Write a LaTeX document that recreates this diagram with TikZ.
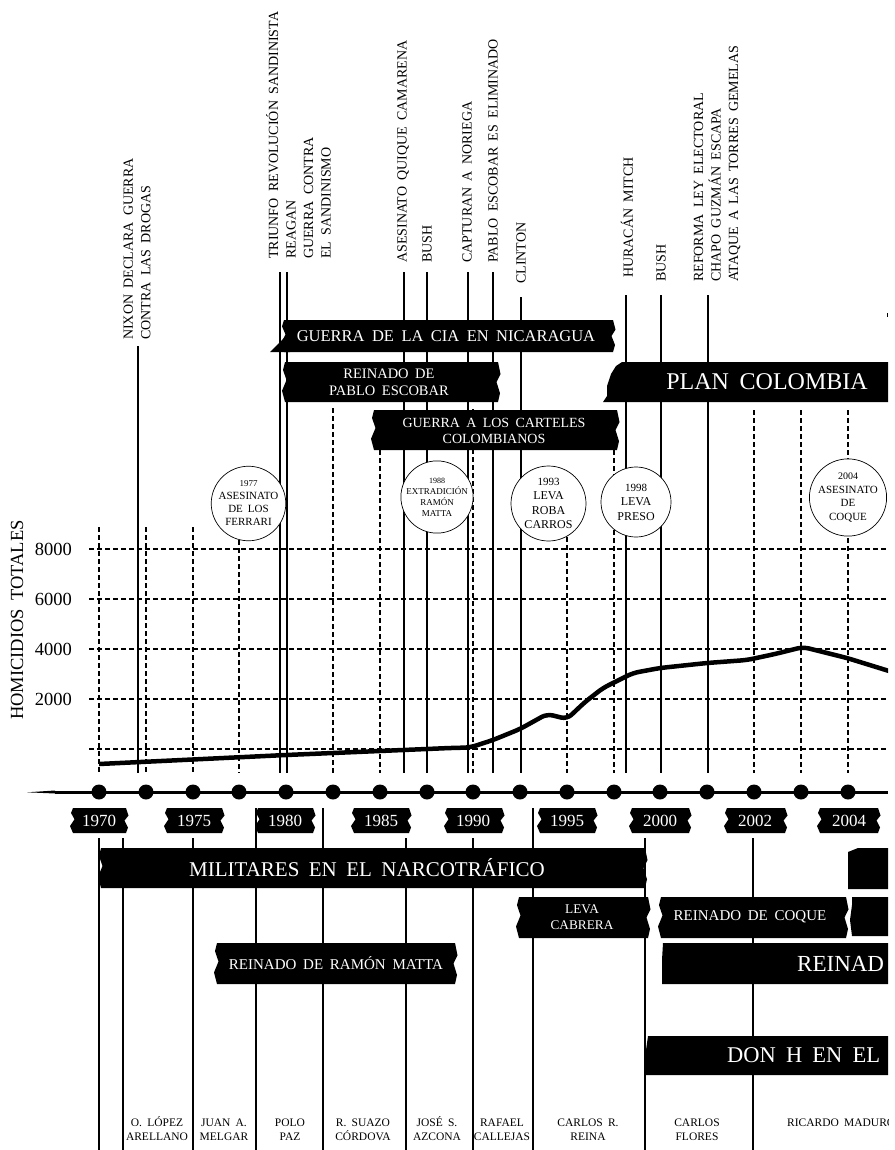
\documentclass[tikz,border=0pt]{standalone}
\usepackage{fontspec}
\setmainfont{Liberation Serif}[WordSpace=1.8]
\newcommand\fs[2]{\fontsize{#1}{#2}\selectfont}
% torn tape box: x1, ytop, x2, ybottom
\newcommand\tapebox[4]{%
  \fill ({#1},{#2}) -- ({#3},{#2}) -- ({#3+2.5},{#2+0.3*(#4-#2)}) -- ({#3-1.5},{#2+0.5*(#4-#2)}) -- ({#3+2},{#2+0.78*(#4-#2)}) -- ({#3},{#4}) -- ({#1},{#4}) -- ({#1-3},{#2+0.72*(#4-#2)}) -- ({#1+1.5},{#2+0.45*(#4-#2)}) -- ({#1-2},{#2+0.2*(#4-#2)}) -- cycle;}
\begin{document}
\begin{tikzpicture}[x=1pt,y=-1pt,
  evline/.style={line width=1.3pt},
  gdash/.style={line width=1.4pt, dash pattern=on 4.5pt off 3.5pt},
  toplbl/.style={rotate=90, anchor=west, inner sep=0pt, align=left, font=\fs{14}{17.5}},
  wtxt/.style={text=white, inner sep=0pt, align=center},
  yrtxt/.style={text=white, inner sep=0pt, font=\fs{17}{17}},
  evc/.style={circle, draw, line width=0.7pt, fill=white, inner sep=0pt, align=center},
  pres/.style={inner sep=0pt, align=center, anchor=north, font=\fs{11.5}{13.5}},
  dot/.style={circle, fill=black, inner sep=0pt, minimum size=15pt},
  axn/.style={inner sep=0pt, font=\fs{18.5}{18.5}}]
\useasboundingbox (0,0) rectangle (894,1150);
\fill[white] (0,0) rectangle (894,1150);
\clip (0,0) rectangle (888,1150);

% grid
\foreach \y in {549,599,649,699,749} \draw[gdash] (89,\y) -- (888,\y);
\foreach \x/\t in {99/527,146/527,193/527,239/540,333/408,380/410,473/409,567/537,614/410,754/410,801/410,848/410}
  \draw[gdash] (\x,\t) -- (\x,773);

% event lines
\foreach \x/\t in {138/346,280/272,287/272,404/272,427/272,468/272,493/272,521/297,626/295,661/295,708/295}
  \draw[evline] (\x,\t) -- (\x,773);
\draw[line width=1pt] (887,313) -- (887,317);

% homicide curve
\draw[line width=4.5pt, rounded corners=6pt] (99,764) -- (286,755) -- (450,748) -- (470,747.5) -- (493,740) -- (520,729) -- (547,714) -- (567,719) -- (585,702) -- (603,688) -- (633,673) -- (660,668) -- (707,663) -- (747,660) -- (775,654) -- (803,647) -- (847,658) -- (889,671);

% axis
\node[rotate=90, inner sep=0pt, font=\fs{18.5}{18.5}] (ylab) at (17,620) {HOMICIDIOS TOTALES};
\node[axn, anchor=east] (y8) at (72,549) {8000};
\node[axn, anchor=east] (y6) at (72,599) {6000};
\node[axn, anchor=east] (y4) at (72,649) {4000};
\node[axn, anchor=east] (y2) at (72,699) {2000};

% event circles
\node[evc, minimum size=73pt, font=\fs{11}{13}] (c1977) at (248.5,503.5) {{\fs{9}{13}1977}\\ASESINATO\\DE LOS\\FERRARI};
\node[evc, minimum size=71pt, font=\fs{9}{11}] (c1988) at (437,497) {{\fs{8}{11}1988}\\EXTRADICIÓN\\RAMÓN\\MATTA};
\node[evc, minimum size=75pt, font=\fs{12}{14.5}] (c1993) at (548.5,503.5) {{\fs{11}{14.5}1993}\\LEVA\\ROBA\\CARROS};
\node[evc, minimum size=70pt, font=\fs{12}{14.5}] (c1998) at (636,502) {{\fs{11}{14.5}1998}\\LEVA\\PRESO};
\node[evc, minimum size=76pt, font=\fs{11}{13.5}] (c2004) at (848,497.5) {{\fs{10}{13.5}2004}\\ASESINATO\\DE\\COQUE};

% timeline
\fill (27,792.3) -- (55,790.5) -- (55,793.5) -- cycle;
\coordinate (tls) at (55,792);
\coordinate (tle) at (888,792);
\draw[line width=3pt] (tls) -- (tle);
\foreach \x [count=\i from 0] in {99,146,193,239,286,333,380,427,473,520,567,614,660,707,754,801,848}
  \node[dot] (d\i) at (\x,792) {};

% year labels
\foreach \a/\b/\c/\yr in {73/126/99/1970,167/222/194/1975,258/313/285/1980,354/409/381/1985,447/502/473/1990,540/595/567/1995,632/689/660/2000,727/785/755/2002,820/878/849/2004}{
  \tapebox{\a}{808}{\b}{833}
  \node[yrtxt] (yr\yr) at (\c,820.5) {\yr};
}

% bottom verticals
\foreach \x/\t in {99/838,123/838,193/838,256/808,323/808,406/838,473/838,533/808,645/838,753/838}
  \draw[evline] (\x,\t) -- (\x,1150);

% top banners
\tapebox{284}{320}{613}{352}
\fill (286,336) -- (270,352) -- (290,352) -- cycle;
\node[wtxt, font=\fs{16.5}{16.5}] (cia) at (446,336) {GUERRA DE LA CIA EN NICARAGUA};
\tapebox{285}{362}{498}{402}
\node[wtxt, font=\fs{14.5}{17}] (pablo) at (389,382) {REINADO DE\\PABLO ESCOBAR};
\tapebox{374}{410}{617}{450}
\node[wtxt, font=\fs{14}{16}] (carteles) at (494,431) {GUERRA A LOS CARTELES\\COLOMBIANOS};
\fill (622,362) -- (890,362) -- (890,402) -- (603,402) -- (607,396) -- (607,386) -- (611,374) -- (616,366) -- cycle;
\node[wtxt, font=\fs{24}{24}] (plan) at (767,382) {PLAN COLOMBIA};

% bottom banners
\tapebox{101}{848}{645}{888}
\node[wtxt, font=\fs{21}{21}] (mil) at (367,868) {MILITARES EN EL NARCOTRÁFICO};
\tapebox{217}{943}{455}{984}
\node[wtxt, font=\fs{15}{15}] (matta) at (336,963.5) {REINADO DE RAMÓN MATTA};
\tapebox{519}{897}{648}{938}
\node[wtxt, font=\fs{13.3}{16}] (cabrera) at (582,917) {LEVA\\CABRERA};
\tapebox{661}{897}{846}{938}
\node[wtxt, font=\fs{15}{15}] (coque) at (750,917) {REINADO DE COQUE};
\fill (852,897) -- (890,897) -- (890,936) -- (852,936) -- (850,920) -- (852,905) -- cycle;
\fill (848,852) -- (858,848) -- (890,848) -- (890,889) -- (848,889) -- cycle;
\fill (663,943) -- (890,943) -- (890,984) -- (662,984) -- (662,960) -- cycle;
\node[wtxt, anchor=west, font=\fs{23}{23}] (reinad) at (797,963.5) {REINAD};
\fill (648,1036) -- (890,1036) -- (890,1075) -- (646,1075) -- (646,1050) -- cycle;
\node[wtxt, anchor=west, font=\fs{22.5}{22.5}] (donh) at (727,1055.5) {DON H EN EL};

% presidents
\node[pres] (p1) at (157,1116.5) {\vphantom{ÉÓ}O. LÓPEZ\\ARELLANO};
\node[pres] (p2) at (224,1116.5) {\vphantom{ÉÓ}JUAN A.\\MELGAR};
\node[pres] (p3) at (290,1116.5) {\vphantom{ÉÓ}POLO\\PAZ};
\node[pres] (p4) at (363,1116.5) {\vphantom{ÉÓ}R. SUAZO\\CÓRDOVA};
\node[pres] (p5) at (437,1116.5) {\vphantom{ÉÓ}JOSÉ S.\\AZCONA};
\node[pres] (p6) at (502,1116.5) {\vphantom{ÉÓ}RAFAEL\\CALLEJAS};
\node[pres] (p7) at (588,1116.5) {\vphantom{ÉÓ}CARLOS R.\\REINA};
\node[pres] (p8) at (697,1116.5) {\vphantom{ÉÓ}CARLOS\\FLORES};
\node[pres, anchor=north west] (p9) at (787,1116.5) {\vphantom{ÉÓ}RICARDO MADURO};

% top event labels
\node[toplbl] (nixon) at (137,340) {NIXON DECLARA GUERRA\\CONTRA LAS DROGAS};
\node[toplbl] (triunfo) at (298.5,259) {TRIUNFO REVOLUCIÓN SANDINISTA\\REAGAN\\GUERRA CONTRA\\EL SANDINISMO};
\node[toplbl] (quique) at (403,263) {ASESINATO QUIQUE CAMARENA};
\node[toplbl] (bush1) at (427,263) {BUSH};
\node[toplbl] (noriega) at (467,263) {CAPTURAN A NORIEGA};
\node[toplbl] (pabloe) at (493,263) {PABLO ESCOBAR ES ELIMINADO};
\node[toplbl] (clinton) at (521,284) {CLINTON};
\node[toplbl] (mitch) at (627,278) {HURACÁN MITCH};
\node[toplbl] (bush2) at (661,282) {BUSH};
\node[toplbl] (reforma) at (717,282) {REFORMA LEY ELECTORAL\\CHAPO GUZMÁN ESCAPA\\ATAQUE A LAS TORRES GEMELAS};
\end{tikzpicture}
\end{document}
